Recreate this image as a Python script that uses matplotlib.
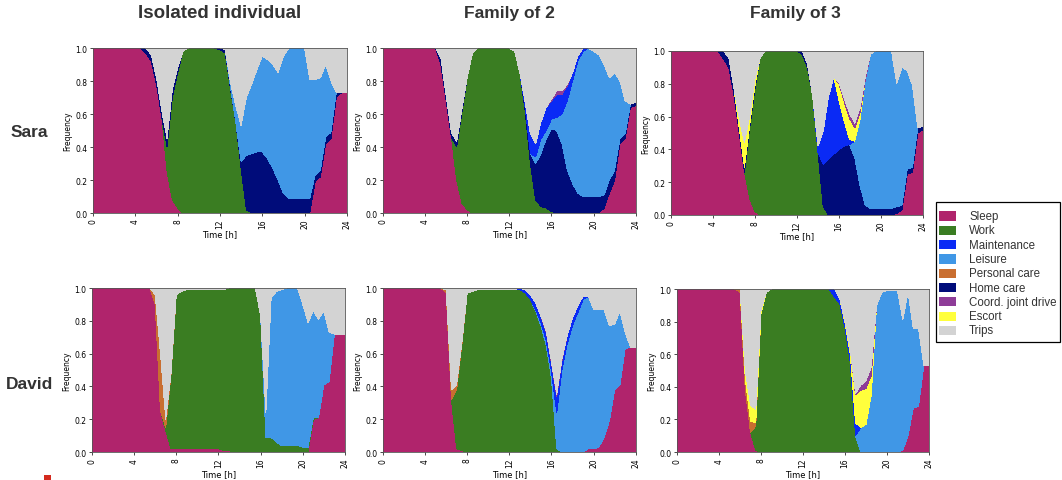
"""Daily activity profiles (share of agents per activity over the day) for
Sara and David, as isolated individuals and inside families of 2 and 3."""

import numpy as np
import matplotlib

matplotlib.use("Agg")
import matplotlib.pyplot as plt
from matplotlib.patches import Rectangle

# half-hour sampling of the day, 0 h .. 24 h (49 points)
HOURS = np.arange(0, 24.5, 0.5)

LEGEND_ORDER = ["Sleep", "Work", "Maintenance", "Leisure", "Personal care",
                "Home care", "Coord. joint drive", "Escort", "Trips"]
STACK_ORDER = ["Sleep", "Work", "Home care", "Leisure", "Maintenance",
               "Personal care", "Escort", "Coord. joint drive", "Trips"]
COLORS = {
    "Sleep": "#B0246C",
    "Work": "#3A7D22",
    "Maintenance": "#0A2AF5",
    "Leisure": "#4097E6",
    "Personal care": "#C96E30",
    "Home care": "#000C7A",
    "Coord. joint drive": "#8E3C98",
    "Escort": "#FFFF3C",
    "Trips": "#D3D3D3",
}

# ---- Sara, isolated individual ----
SARA_ISO_SLEEP = [
    1, 1, 1, 1, 1, 1, 1, 1, 1, 1, 0.97, 0.92,
    0.78, 0.58, 0.25, 0.08, 0.03, 0, 0, 0, 0, 0, 0, 0,
    0, 0, 0, 0, 0, 0, 0, 0, 0, 0, 0, 0,
    0, 0, 0, 0, 0, 0, 0.19, 0.22, 0.42, 0.45, 0.70, 0.73,
    0.73]
SARA_ISO_WORK = [
    0, 0, 0, 0, 0, 0, 0, 0, 0, 0, 0, 0,
    0, 0, 0.15, 0.62, 0.82, 0.98, 1, 1, 1, 1, 1, 1,
    0.99, 0.97, 0.75, 0.55, 0.27, 0.02, 0, 0, 0, 0, 0, 0,
    0, 0, 0, 0, 0, 0, 0, 0, 0, 0, 0, 0,
    0]
SARA_ISO_HOME = [
    0, 0, 0, 0, 0, 0, 0, 0, 0, 0, 0.03, 0.04,
    0.04, 0.04, 0.05, 0.05, 0.03, 0, 0, 0, 0, 0, 0, 0,
    0.01, 0.02, 0.01, 0, 0.04, 0.33, 0.36, 0.37, 0.37, 0.33, 0.27, 0.2,
    0.12, 0.09, 0.09, 0.09, 0.09, 0.09, 0.04, 0.04, 0.04, 0.04, 0.03, 0,
    0]
SARA_ISO_LEISURE = [
    0, 0, 0, 0, 0, 0, 0, 0, 0, 0, 0, 0,
    0, 0, 0, 0, 0, 0, 0, 0, 0, 0, 0, 0,
    0, 0, 0.03, 0.1, 0.22, 0.35, 0.42, 0.5, 0.58, 0.6, 0.63, 0.65,
    0.83, 0.91, 0.91, 0.91, 0.91, 0.72, 0.58, 0.56, 0.44, 0.31, 0, 0,
    0]
SARA_ISO_TRIPS = [
    0, 0, 0, 0, 0, 0, 0, 0, 0, 0, 0, 0.04,
    0.18, 0.38, 0.55, 0.25, 0.12, 0.02, 0, 0, 0, 0, 0, 0,
    0, 0.01, 0.21, 0.35, 0.47, 0.3, 0.22, 0.13, 0.05, 0.07, 0.1, 0.15,
    0.05, 0, 0, 0, 0, 0.19, 0.19, 0.18, 0.1, 0.2, 0.27, 0.27,
    0.27]

# ---- Sara, family of 2 ----
SARA_F2_SLEEP = [
    1, 1, 1, 1, 1, 1, 1, 1, 1, 1, 1, 0.9,
    0.68, 0.46, 0.2, 0.06, 0.02, 0, 0, 0, 0, 0, 0, 0,
    0, 0, 0, 0, 0, 0, 0, 0, 0, 0, 0, 0,
    0, 0, 0, 0, 0, 0, 0.03, 0.12, 0.2, 0.42, 0.45, 0.64,
    0.65]
SARA_F2_WORK = [
    0, 0, 0, 0, 0, 0, 0, 0, 0, 0, 0, 0,
    0, 0, 0.2, 0.55, 0.8, 0.97, 1, 1, 1, 1, 1, 1,
    1, 0.98, 0.85, 0.62, 0.3, 0.08, 0.04, 0.03, 0.01, 0, 0, 0,
    0, 0, 0, 0, 0, 0, 0, 0, 0, 0, 0, 0,
    0]
SARA_F2_HOME = [
    0, 0, 0, 0, 0, 0, 0, 0, 0, 0, 0, 0.04,
    0.03, 0.03, 0.03, 0.02, 0, 0, 0, 0, 0, 0, 0, 0,
    0, 0, 0, 0.02, 0.06, 0.22, 0.32, 0.42, 0.5, 0.5, 0.42, 0.26,
    0.18, 0.12, 0.1, 0.1, 0.1, 0.1, 0.08, 0.08, 0.06, 0.03, 0.03, 0.02,
    0.02]
SARA_F2_LEISURE = [
    0, 0, 0, 0, 0, 0, 0, 0, 0, 0, 0, 0,
    0, 0, 0, 0, 0, 0, 0, 0, 0, 0, 0, 0,
    0, 0, 0, 0, 0, 0.04, 0.09, 0.05, 0.06, 0.08, 0.18, 0.42,
    0.62, 0.8, 0.88, 0.9, 0.88, 0.86, 0.79, 0.62, 0.59, 0.35, 0.2, 0,
    0]
SARA_F2_MAINT = [
    0, 0, 0, 0, 0, 0, 0, 0, 0, 0, 0, 0,
    0, 0, 0, 0, 0, 0, 0, 0, 0, 0, 0, 0,
    0, 0, 0, 0.03, 0.12, 0.08, 0.1, 0.14, 0.11, 0.14, 0.12, 0.09,
    0.05, 0.03, 0.02, 0, 0, 0, 0, 0, 0, 0, 0, 0,
    0]
SARA_F2_COORD = [
    0, 0, 0, 0, 0, 0, 0, 0, 0, 0, 0, 0,
    0, 0, 0, 0, 0, 0, 0, 0, 0, 0, 0, 0,
    0, 0, 0, 0, 0, 0, 0, 0, 0.01, 0.02, 0.02, 0.01,
    0, 0, 0, 0, 0, 0, 0, 0, 0, 0, 0, 0,
    0]
SARA_F2_TRIPS = [
    0, 0, 0, 0, 0, 0, 0, 0, 0, 0, 0, 0.06,
    0.29, 0.51, 0.57, 0.37, 0.18, 0.03, 0, 0, 0, 0, 0, 0,
    0, 0.02, 0.15, 0.33, 0.52, 0.58, 0.45, 0.36, 0.31, 0.26, 0.26, 0.22,
    0.15, 0.05, 0, 0, 0.02, 0.04, 0.1, 0.18, 0.15, 0.2, 0.32, 0.34,
    0.33]

# ---- Sara, family of 3 ----
SARA_F3_SLEEP = [
    1, 1, 1, 1, 1, 1, 1, 1, 1, 1, 0.95, 0.9,
    0.73, 0.5, 0.26, 0.1, 0.02, 0, 0, 0, 0, 0, 0, 0,
    0, 0, 0, 0, 0, 0, 0, 0, 0, 0, 0, 0,
    0, 0, 0, 0, 0, 0, 0, 0.01, 0.03, 0.25, 0.26, 0.5,
    0.52]
SARA_F3_WORK = [
    0, 0, 0, 0, 0, 0, 0, 0, 0, 0, 0, 0,
    0, 0, 0, 0.43, 0.75, 0.96, 1, 1, 1, 1, 1, 1,
    1, 0.98, 0.9, 0.72, 0.38, 0.05, 0, 0, 0, 0, 0, 0,
    0, 0, 0, 0, 0, 0, 0, 0, 0, 0, 0, 0,
    0]
SARA_F3_HOME = [
    0, 0, 0, 0, 0, 0, 0, 0, 0, 0, 0.05, 0.06,
    0.04, 0.03, 0.03, 0.02, 0.02, 0, 0, 0, 0, 0, 0, 0,
    0, 0.02, 0.02, 0, 0, 0.26, 0.34, 0.37, 0.4, 0.42, 0.43, 0.35,
    0.18, 0.06, 0.04, 0.04, 0.04, 0.04, 0.04, 0.04, 0.03, 0.03, 0.03, 0.03,
    0.02]
SARA_F3_LEISURE = [
    0, 0, 0, 0, 0, 0, 0, 0, 0, 0, 0, 0,
    0, 0, 0, 0, 0, 0, 0, 0, 0, 0, 0, 0,
    0, 0, 0, 0, 0, 0, 0, 0, 0, 0, 0, 0.1,
    0.4, 0.76, 0.94, 0.96, 0.96, 0.96, 0.96, 0.75, 0.84, 0.6, 0.5, 0,
    0]
SARA_F3_MAINT = [
    0, 0, 0, 0, 0, 0, 0, 0, 0, 0, 0, 0,
    0, 0, 0, 0, 0, 0, 0, 0, 0, 0, 0, 0,
    0, 0, 0, 0, 0.04, 0.2, 0.38, 0.47, 0.3, 0.15, 0.03, 0,
    0, 0, 0, 0, 0, 0, 0, 0, 0, 0, 0, 0,
    0]
SARA_F3_ESCORT = [
    0, 0, 0, 0, 0, 0, 0, 0, 0, 0, 0, 0,
    0, 0.06, 0.15, 0.05, 0.04, 0, 0, 0, 0, 0, 0, 0,
    0, 0, 0, 0, 0, 0, 0, 0, 0.1, 0.12, 0.13, 0.08,
    0.04, 0, 0, 0, 0, 0, 0, 0, 0, 0, 0, 0,
    0]
SARA_F3_COORD = [
    0, 0, 0, 0, 0, 0, 0, 0, 0, 0, 0, 0,
    0, 0, 0, 0, 0, 0, 0, 0, 0, 0, 0, 0,
    0, 0, 0, 0, 0, 0, 0, 0, 0.01, 0.02, 0.03, 0.03,
    0.03, 0.02, 0, 0, 0, 0, 0, 0, 0, 0, 0, 0,
    0]
SARA_F3_TRIPS = [
    0, 0, 0, 0, 0, 0, 0, 0, 0, 0, 0, 0.04,
    0.23, 0.41, 0.56, 0.4, 0.17, 0.04, 0, 0, 0, 0, 0, 0,
    0, 0, 0.08, 0.28, 0.58, 0.49, 0.28, 0.16, 0.19, 0.29, 0.38, 0.44,
    0.35, 0.16, 0.02, 0, 0, 0, 0, 0.2, 0.1, 0.12, 0.21, 0.47,
    0.46]

# ---- David, isolated individual ----
DAVID_ISO_SLEEP = [
    1, 1, 1, 1, 1, 1, 1, 1, 1, 1, 1, 1,
    0.9, 0.25, 0.13, 0.02, 0.02, 0.02, 0.02, 0.02, 0.02, 0.02, 0.02, 0.02,
    0.02, 0.01, 0.01, 0, 0, 0, 0, 0, 0, 0, 0, 0,
    0, 0, 0, 0, 0, 0, 0.2, 0.21, 0.41, 0.43, 0.72, 0.72,
    0.72]
DAVID_ISO_PERSONAL = [
    0, 0, 0, 0, 0, 0, 0, 0, 0, 0, 0, 0,
    0.06, 0.35, 0.05, 0.01, 0, 0, 0, 0, 0, 0, 0, 0,
    0, 0, 0, 0, 0, 0, 0, 0, 0, 0, 0, 0,
    0, 0, 0, 0, 0, 0, 0, 0, 0, 0, 0, 0,
    0]
DAVID_ISO_WORK = [
    0, 0, 0, 0, 0, 0, 0, 0, 0, 0, 0, 0,
    0, 0, 0.02, 0.45, 0.94, 0.96, 0.97, 0.97, 0.97, 0.97, 0.97, 0.97,
    0.97, 0.98, 0.99, 1, 1, 1, 1, 1, 0.83, 0.09, 0.09, 0.06,
    0.04, 0.04, 0.04, 0.04, 0.03, 0.03, 0.01, 0, 0, 0, 0, 0,
    0]
DAVID_ISO_LEISURE = [
    0, 0, 0, 0, 0, 0, 0, 0, 0, 0, 0, 0,
    0, 0, 0, 0, 0, 0, 0, 0, 0, 0, 0, 0,
    0, 0, 0, 0, 0, 0, 0, 0, 0, 0.15, 0.85, 0.92,
    0.95, 0.96, 0.96, 0.96, 0.87, 0.76, 0.65, 0.6, 0.45, 0.3, 0, 0,
    0]
DAVID_ISO_TRIPS = [
    0, 0, 0, 0, 0, 0, 0, 0, 0, 0, 0, 0,
    0.04, 0.4, 0.8, 0.52, 0.04, 0.02, 0.01, 0.01, 0.01, 0.01, 0.01, 0.01,
    0.01, 0.01, 0, 0, 0, 0, 0, 0, 0.17, 0.76, 0.06, 0.02,
    0.01, 0, 0, 0, 0.1, 0.21, 0.14, 0.19, 0.14, 0.27, 0.28, 0.28,
    0.28]

# ---- David, family of 2 ----
DAVID_F2_SLEEP = [
    1, 1, 1, 1, 1, 1, 1, 1, 1, 1, 1, 1,
    0.97, 0.32, 0.02, 0.01, 0, 0, 0, 0, 0, 0, 0, 0,
    0, 0, 0, 0, 0, 0, 0, 0, 0, 0, 0, 0,
    0, 0, 0, 0.02, 0.02, 0.03, 0.09, 0.19, 0.38, 0.41, 0.63, 0.64,
    0.64]
DAVID_F2_PERSONAL = [
    0, 0, 0, 0, 0, 0, 0, 0, 0, 0, 0, 0,
    0.02, 0.06, 0.03, 0.01, 0, 0, 0, 0, 0, 0, 0, 0,
    0, 0, 0, 0, 0, 0, 0, 0, 0, 0, 0, 0,
    0, 0, 0, 0, 0, 0, 0, 0, 0, 0, 0, 0,
    0]
DAVID_F2_WORK = [
    0, 0, 0, 0, 0, 0, 0, 0, 0, 0, 0, 0,
    0, 0, 0.36, 0.65, 0.97, 0.98, 0.99, 0.99, 0.99, 0.99, 0.99, 0.99,
    0.99, 0.99, 0.99, 0.97, 0.93, 0.86, 0.77, 0.65, 0.45, 0.02, 0, 0,
    0, 0, 0, 0, 0, 0, 0, 0, 0, 0, 0, 0,
    0]
DAVID_F2_LEISURE = [
    0, 0, 0, 0, 0, 0, 0, 0, 0, 0, 0, 0,
    0, 0, 0, 0, 0, 0, 0, 0, 0, 0, 0, 0,
    0, 0, 0, 0, 0, 0.01, 0.02, 0.03, 0.04, 0.22, 0.5, 0.66,
    0.77, 0.85, 0.93, 0.93, 0.85, 0.84, 0.78, 0.58, 0.4, 0.45, 0.1, 0,
    0]
DAVID_F2_MAINT = [
    0, 0, 0, 0, 0, 0, 0, 0, 0, 0, 0, 0,
    0, 0, 0, 0, 0, 0, 0, 0, 0, 0, 0, 0,
    0, 0, 0.01, 0.02, 0.03, 0.04, 0.04, 0.05, 0.05, 0.1, 0.06, 0.05,
    0.05, 0.04, 0.02, 0, 0, 0, 0, 0, 0, 0, 0, 0,
    0]
DAVID_F2_COORD = [
    0, 0, 0, 0, 0, 0, 0, 0, 0, 0, 0, 0,
    0, 0, 0, 0, 0, 0, 0, 0, 0, 0, 0, 0,
    0, 0, 0, 0, 0, 0, 0, 0.01, 0.01, 0.01, 0.01, 0,
    0, 0, 0, 0, 0, 0, 0, 0, 0, 0, 0, 0,
    0]
DAVID_F2_TRIPS = [
    0, 0, 0, 0, 0, 0, 0, 0, 0, 0, 0, 0,
    0.01, 0.62, 0.59, 0.33, 0.03, 0.02, 0.01, 0.01, 0.01, 0.01, 0.01, 0.01,
    0.01, 0.01, 0, 0.01, 0.04, 0.09, 0.17, 0.26, 0.45, 0.65, 0.43, 0.29,
    0.18, 0.11, 0.05, 0.05, 0.13, 0.13, 0.13, 0.23, 0.22, 0.14, 0.27, 0.36,
    0.36]

# ---- David, family of 3 ----
DAVID_F3_SLEEP = [
    1, 1, 1, 1, 1, 1, 1, 1, 1, 1, 1, 1,
    0.98, 0.38, 0.12, 0.01, 0, 0, 0, 0, 0, 0, 0, 0,
    0, 0, 0, 0, 0, 0, 0, 0, 0, 0, 0, 0,
    0, 0, 0, 0, 0, 0, 0, 0.01, 0.1, 0.27, 0.28, 0.53,
    0.53]
DAVID_F3_PERSONAL = [
    0, 0, 0, 0, 0, 0, 0, 0, 0, 0, 0, 0,
    0.02, 0.07, 0.07, 0.02, 0, 0, 0, 0, 0, 0, 0, 0,
    0, 0, 0, 0, 0, 0, 0, 0, 0, 0, 0, 0,
    0, 0, 0, 0, 0, 0, 0, 0, 0, 0, 0, 0,
    0]
DAVID_F3_ESCORT = [
    0, 0, 0, 0, 0, 0, 0, 0, 0, 0, 0, 0,
    0, 0.05, 0.1, 0.08, 0.02, 0, 0, 0, 0, 0, 0, 0,
    0, 0, 0, 0, 0, 0, 0, 0, 0.01, 0.03, 0.17, 0.23,
    0.22, 0.12, 0, 0, 0, 0, 0, 0, 0, 0, 0, 0,
    0]
DAVID_F3_WORK = [
    0, 0, 0, 0, 0, 0, 0, 0, 0, 0, 0, 0,
    0, 0, 0, 0.15, 0.85, 0.98, 1, 1, 1, 1, 1, 1,
    1, 1, 1, 1, 1, 1, 0.95, 0.91, 0.76, 0.55, 0.1, 0,
    0, 0, 0, 0, 0, 0, 0, 0, 0, 0, 0, 0,
    0]
DAVID_F3_MAINT = [
    0, 0, 0, 0, 0, 0, 0, 0, 0, 0, 0, 0,
    0, 0, 0, 0, 0, 0, 0, 0, 0, 0, 0, 0,
    0, 0, 0, 0, 0, 0, 0.05, 0.03, 0.03, 0.05, 0.08, 0,
    0, 0, 0, 0, 0, 0, 0, 0, 0, 0, 0, 0,
    0]
DAVID_F3_LEISURE = [
    0, 0, 0, 0, 0, 0, 0, 0, 0, 0, 0, 0,
    0, 0, 0, 0, 0, 0, 0, 0, 0, 0, 0, 0,
    0, 0, 0, 0, 0, 0, 0, 0, 0, 0, 0, 0.15,
    0.17, 0.35, 0.9, 0.98, 0.99, 0.99, 0.99, 0.8, 0.88, 0.49, 0.48, 0,
    0]
DAVID_F3_COORD = [
    0, 0, 0, 0, 0, 0, 0, 0, 0, 0, 0, 0,
    0, 0, 0, 0, 0, 0, 0, 0, 0, 0, 0, 0,
    0, 0, 0, 0, 0, 0, 0, 0, 0, 0, 0.01, 0.03,
    0.05, 0.05, 0, 0, 0, 0, 0, 0, 0, 0, 0, 0,
    0]
DAVID_F3_TRIPS = [
    0, 0, 0, 0, 0, 0, 0, 0, 0, 0, 0, 0,
    0, 0.5, 0.71, 0.74, 0.13, 0.02, 0, 0, 0, 0, 0, 0,
    0, 0, 0, 0, 0, 0, 0, 0.06, 0.2, 0.37, 0.64, 0.59,
    0.56, 0.48, 0.1, 0.02, 0.01, 0.01, 0.01, 0.19, 0.02, 0.24, 0.24, 0.47,
    0.47]

COLUMN_TITLES = ["Isolated individual", "Family of 2", "Family of 3"]
ROW_TITLES = ["Sara", "David"]

PANELS = [
    {"Sleep": SARA_ISO_SLEEP, "Work": SARA_ISO_WORK, "Home care": SARA_ISO_HOME,
     "Leisure": SARA_ISO_LEISURE, "Trips": SARA_ISO_TRIPS},
    {"Sleep": SARA_F2_SLEEP, "Work": SARA_F2_WORK, "Home care": SARA_F2_HOME,
     "Leisure": SARA_F2_LEISURE, "Maintenance": SARA_F2_MAINT,
     "Coord. joint drive": SARA_F2_COORD, "Trips": SARA_F2_TRIPS},
    {"Sleep": SARA_F3_SLEEP, "Work": SARA_F3_WORK, "Home care": SARA_F3_HOME,
     "Leisure": SARA_F3_LEISURE, "Maintenance": SARA_F3_MAINT,
     "Escort": SARA_F3_ESCORT, "Coord. joint drive": SARA_F3_COORD,
     "Trips": SARA_F3_TRIPS},
    {"Sleep": DAVID_ISO_SLEEP, "Work": DAVID_ISO_WORK,
     "Personal care": DAVID_ISO_PERSONAL, "Leisure": DAVID_ISO_LEISURE,
     "Trips": DAVID_ISO_TRIPS},
    {"Sleep": DAVID_F2_SLEEP, "Work": DAVID_F2_WORK,
     "Personal care": DAVID_F2_PERSONAL, "Leisure": DAVID_F2_LEISURE,
     "Maintenance": DAVID_F2_MAINT, "Coord. joint drive": DAVID_F2_COORD,
     "Trips": DAVID_F2_TRIPS},
    {"Sleep": DAVID_F3_SLEEP, "Work": DAVID_F3_WORK,
     "Personal care": DAVID_F3_PERSONAL, "Escort": DAVID_F3_ESCORT,
     "Leisure": DAVID_F3_LEISURE, "Maintenance": DAVID_F3_MAINT,
     "Coord. joint drive": DAVID_F3_COORD, "Trips": DAVID_F3_TRIPS},
]

# axes rectangles in figure fractions (the panels are not on a perfect grid)
AX_RECTS = [
    [0.0876, 0.555, 0.239, 0.343],
    [0.3606, 0.555, 0.238, 0.343],
    [0.6318, 0.551, 0.2373, 0.341],
    [0.0866, 0.058, 0.2382, 0.341],
    [0.3606, 0.058, 0.238, 0.341],
    [0.6375, 0.058, 0.2373, 0.339],
]

TITLE_FONT = ["Liberation Sans", "DejaVu Sans"]
W, H = 1062, 481

fig = plt.figure(figsize=(W / 100, H / 100), dpi=100)

for rect, panel in zip(AX_RECTS, PANELS):
    ax = fig.add_axes(rect)
    layers = []
    for name in STACK_ORDER:
        values = panel.get(name)
        layers.append(np.zeros(len(HOURS)) if values is None else np.asarray(values, float))
    layers = np.vstack(layers)
    layers = layers / layers.sum(axis=0)  # shares per time step sum to 1
    ax.stackplot(HOURS, layers, colors=[COLORS[n] for n in STACK_ORDER],
                 linewidth=0, antialiased=False)
    ax.set_xlim(0, 24)
    ax.set_ylim(0, 1)
    ax.set_xticks(range(0, 25, 4))
    ax.set_yticks(np.arange(0, 1.01, 0.2))
    ax.tick_params(axis="x", labelrotation=90, labelsize=5.5, length=2.5, width=0.5, pad=1.5)
    ax.tick_params(axis="y", labelsize=5.5, length=2.5, width=0.5, pad=1.5)
    ax.set_xlabel("Time [h]", fontsize=6, labelpad=1)
    ax.set_ylabel("Frequency", fontsize=5.5, labelpad=2)
    for spine in ax.spines.values():
        spine.set_linewidth(0.6)
        spine.set_color("#555555")

for x, title, size in zip([0.207, 0.480, 0.749], COLUMN_TITLES, [13.5, 12.5, 12.5]):
    fig.text(x, 0.971, title, ha="center", va="center", fontsize=size,
             fontweight="bold", family=TITLE_FONT, color="#333333")
for y, title in zip([0.724, 0.200], ROW_TITLES):
    fig.text(0.028, y, title, ha="center", va="center", fontsize=12.5,
             fontweight="bold", family=TITLE_FONT, color="#333333")

# legend box drawn by hand: tight on the sides, roomy between rows
frame_l, frame_r, frame_t, frame_b = 936, 1060, 203, 343
fig.add_artist(Rectangle((frame_l / W, 1 - frame_b / H), (frame_r - frame_l) / W,
                         (frame_b - frame_t) / H, transform=fig.transFigure,
                         facecolor="white", edgecolor="black", linewidth=0.9))
for i, name in enumerate(LEGEND_ORDER):
    yc = 217 + i * 14.3
    fig.add_artist(Rectangle((939 / W, 1 - (yc + 4.6) / H), 17 / W, 9.2 / H,
                             transform=fig.transFigure, facecolor=COLORS[name],
                             edgecolor="none"))
    fig.text(969 / W, 1 - yc / H, name, ha="left", va="center", fontsize=8.3,
             family=TITLE_FONT, color="#333333")

# small red marker at the bottom-left of the slide
fig.add_artist(Rectangle((0.0415, 0.0), 0.0065, 0.011, transform=fig.transFigure,
                         facecolor="#D42A1E", edgecolor="none"))

fig.savefig("out.png", dpi=100)
